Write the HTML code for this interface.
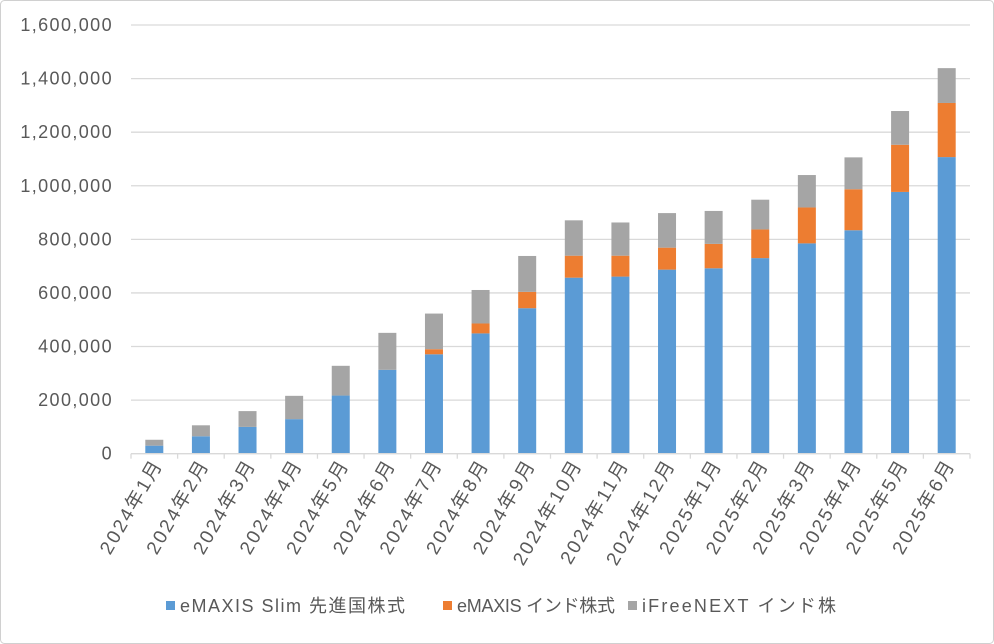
<!DOCTYPE html>
<html><head><meta charset="utf-8">
<style>
html,body{margin:0;padding:0;background:#fff;}
svg{display:block;font-family:"Liberation Sans","Noto Sans CJK JP",sans-serif;}
</style></head>
<body>
<svg id="chart" width="994" height="644" viewBox="0 0 994 644" xmlns="http://www.w3.org/2000/svg">
<rect x="0.5" y="0.5" width="993" height="643" rx="4" fill="#fff" stroke="#d0d0d0"/>
<g id="grid"></g>
<g id="bars"></g>
<g id="yaxis"></g>
<g id="xaxis"></g>
<g font-size="18" fill="#595959">
<g><rect x="166" y="601" width="9" height="9" fill="#5b9bd5"/><text x="180" y="612" textLength="225" lengthAdjust="spacing">eMAXIS Slim 先進国株式</text></g>
<g><rect x="443" y="601" width="9" height="9" fill="#ed7d31"/><text x="457" y="612" textLength="158" lengthAdjust="spacing">eMAXIS インド株式</text></g>
<g><rect x="628" y="601" width="9" height="9" fill="#a5a5a5"/><text x="642" y="612" textLength="194" lengthAdjust="spacing">iFreeNEXT インド株</text></g>
</g>
</svg>
<script>
const categories=["2024年1月","2024年2月","2024年3月","2024年4月","2024年5月","2024年6月","2024年7月","2024年8月","2024年9月","2024年10月","2024年11月","2024年12月","2025年1月","2025年2月","2025年3月","2025年4月","2025年5月","2025年6月"];
const slimValues=[30000,65000,100000,129000,217000,313000,371000,449000,543000,657000,661000,687000,692000,730000,785000,834000,977000,1107000];
const indiaValues=[0,0,0,0,0,0,19000,37000,61000,82000,78000,82000,91000,107000,134000,153000,176000,202000];
const ifreeValues=[22000,41000,59000,87000,111000,138000,133000,125000,134000,132000,124000,129000,123000,111000,121000,119000,126000,130000];
const yTicks=[0,200000,400000,600000,800000,1000000,1200000,1400000,1600000];
const yTickLabels=["0","200,000","400,000","600,000","800,000","1,000,000","1,200,000","1,400,000","1,600,000"];

const NS="http://www.w3.org/2000/svg";
const L=131,R=970,T=25,B=453.7,YMAX=1600000;
const step=(R-L)/categories.length, bw=18;
function y(v){return B-(v/YMAX)*(B-T);}
function xc(i){return L+step*(i+0.5);}
function mk(tag,attrs,parent){const e=document.createElementNS(NS,tag);for(const k in attrs)e.setAttribute(k,attrs[k]);parent.appendChild(e);return e;}
const grid=document.getElementById('grid'),bars=document.getElementById('bars'),ya=document.getElementById('yaxis'),xa=document.getElementById('xaxis');
yTicks.forEach((t,i)=>{
  if(t>0){const g=mk('line',{x1:L,x2:R,y1:y(t),y2:y(t),stroke:'#d9d9d9','stroke-width':1.3},grid);
  
  }
  const tx=mk('text',{x:113,y:y(t)+6,'text-anchor':'end','font-size':18,'letter-spacing':1.4,fill:'#595959'},ya);
  tx.textContent=yTickLabels[i];
  
  
});
const series=[[slimValues,'#5b9bd5','bar-slim'],[indiaValues,'#ed7d31','bar-india'],[ifreeValues,'#a5a5a5','bar-ifree']];
categories.forEach((c,i)=>{
  let base=0;
  series.forEach(([vals,col,nm])=>{
    const v=vals[i];
    if(v>0){
      const r=mk('rect',{x:xc(i)-bw/2,y:y(base+v),width:bw,height:y(base)-y(base+v),fill:col},bars);
      
      
    }
    base+=v;
  });
  const tk=mk('line',{x1:L+step*i,x2:L+step*i,y1:B,y2:B+5,stroke:'#d9d9d9','stroke-width':1.3},xa);
  
  
  const lbl=mk('text',{x:0,y:0,'text-anchor':'end','font-size':19,'letter-spacing':2.2,fill:'#595959',transform:`translate(${xc(i)+9},${B+10}) rotate(-60)`},xa);
  lbl.textContent=c;
  
  
});
const last=mk('line',{x1:R,x2:R,y1:B,y2:B+5,stroke:'#d9d9d9','stroke-width':1.3},xa);


const ax=mk('line',{x1:L,x2:R,y1:B,y2:B,stroke:'#d9d9d9','stroke-width':1.3},xa);


</script>
</body></html>
